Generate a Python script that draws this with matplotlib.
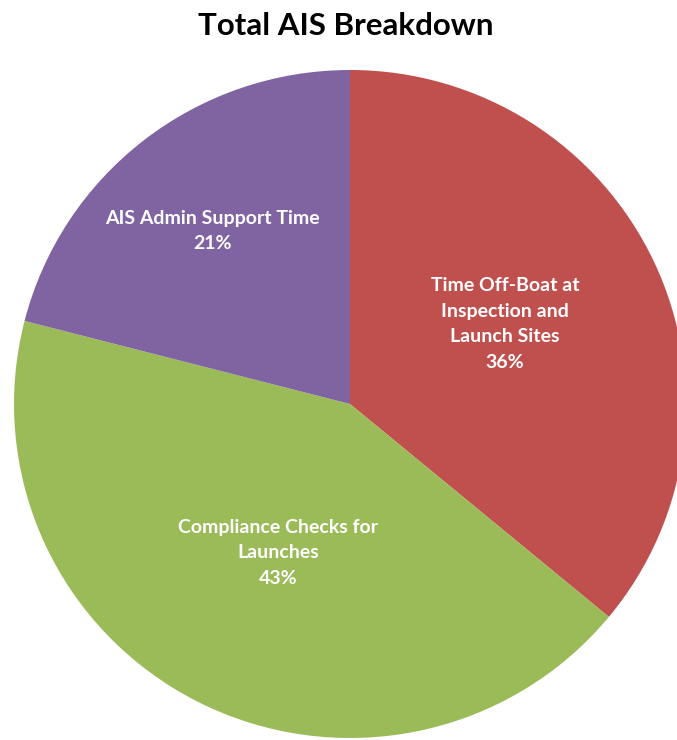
import matplotlib
matplotlib.use("Agg")
import matplotlib.pyplot as plt

labels = ["Time Off-Boat at\nInspection and\nLaunch Sites", "Compliance Checks for\nLaunches", "AIS Admin Support Time"]
values = [36, 43, 21]
colors = ["#C0504D", "#9BBB59", "#8064A2"]
title = "Total AIS Breakdown"

W, H = 677, 740
fig = plt.figure(figsize=(W / 100, H / 100), dpi=100)
cx, cy, rx, ry = 350, 404, 336, 334
ax = fig.add_axes([(cx - rx) / W, (H - cy - ry) / H, 2 * rx / W, 2 * ry / H])
ax.pie(values, colors=colors, startangle=90, counterclock=False, radius=1,
       wedgeprops=dict(linewidth=0))
ax.set_aspect("auto")
ax.set_xlim(-1, 1)
ax.set_ylim(-1, 1)
ax.axis("off")

label_pos = [(505, 324), (278, 553), (212, 231)]
for lab, v, (px, py) in zip(labels, values, label_pos):
    ax.text((px - cx) / rx, (cy - py) / ry, f"{lab}\n{v}%", ha="center", va="center",
            color="white", fontsize=14, fontweight="bold", family="Lato", linespacing=1.62)

fig.text(346 / W, 1 - 26 / H, title, ha="center", va="center", fontsize=22.5,
         fontweight="bold", family="Lato", color="black")
fig.savefig("out.png", dpi=100)
